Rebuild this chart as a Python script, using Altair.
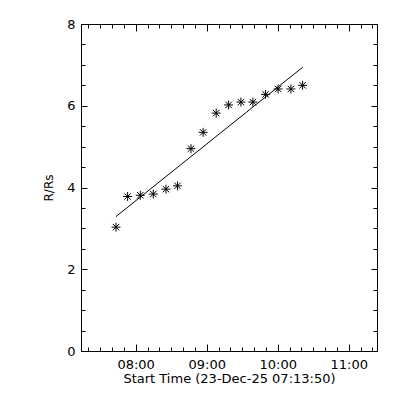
import altair as alt
import pandas as pd

# Observation times (UT, 23-Dec-25) and heights in solar radii
times = ["07:43:24", "07:53:12", "08:03:54", "08:14:54", "08:25:36", "08:35:18",
         "08:46:42", "08:57:00", "09:08:00", "09:18:30", "09:28:54", "09:39:00",
         "09:49:42", "10:00:18", "10:11:06", "10:21:00"]
heights = [3.03, 3.78, 3.81, 3.84, 3.96, 4.04, 4.95, 5.35, 5.82, 6.02, 6.09, 6.09,
           6.28, 6.41, 6.41, 6.50]

# Linear fit end points
fit_times = ["07:43:24", "10:21:00"]
fit_heights = [3.29, 6.94]

x_domain_times = ["07:13:50", "11:23:50"]
y_domain = [0, 8]
x_major = [8, 9, 10, 11]
y_major = [0, 2, 4, 6, 8]


def to_hours(s):
    h, m, sec = (int(v) for v in s.split(":"))
    return h + m / 60 + sec / 3600


pts = pd.DataFrame({"t": [to_hours(s) for s in times], "r": heights})
fit = pd.DataFrame({"t": [to_hours(s) for s in fit_times], "r": fit_heights})

x_minor = [7 + 20 / 60 + i / 6 for i in range(25)]
y_minor = [i * 0.5 for i in range(17)]

xscale = alt.Scale(domain=[to_hours(s) for s in x_domain_times], nice=False, zero=False)
yscale = alt.Scale(domain=y_domain, nice=False, zero=False)

FONT = "DejaVu Sans"
common = dict(grid=False, domain=False, tickColor="black", tickWidth=1,
              labelColor="black", titleColor="black", labelFont=FONT,
              titleFont=FONT, labelFontSize=13, titleFontSize=13,
              titleFontWeight="normal")

ax_bottom_major = alt.Axis(orient="bottom", values=x_major, tickSize=7, offset=-7,
                           labelExpr="(datum.value < 10 ? '0' : '') + datum.value + ':00'",
                           labelPadding=7, title="Start Time (23-Dec-25 07:13:50)",
                           titlePadding=1, **common)
ax_bottom_minor = alt.Axis(orient="bottom", values=x_minor, tickSize=4, offset=-4,
                           labels=False, title=None, **common)
ax_top_major = alt.Axis(orient="top", values=x_major, tickSize=7, offset=-7,
                        labels=False, title=None, **common)
ax_top_minor = alt.Axis(orient="top", values=x_minor, tickSize=4, offset=-4,
                        labels=False, title=None, **common)
left_common = dict(common, titleFontSize=12)
ax_left_major = alt.Axis(orient="left", values=y_major, tickSize=6, offset=-6,
                         labelPadding=6, title="R/Rs", titlePadding=11, **left_common)
ax_left_minor = alt.Axis(orient="left", values=y_minor, tickSize=4, offset=-4,
                         labels=False, title=None, **common)
ax_right_major = alt.Axis(orient="right", values=y_major, tickSize=6, offset=-6,
                          labels=False, title=None, **common)
ax_right_minor = alt.Axis(orient="right", values=y_minor, tickSize=4, offset=-4,
                          labels=False, title=None, **common)

asterisk = "M-1,0L1,0M0,-1L0,1M-0.72,-0.72L0.72,0.72M-0.72,0.72L0.72,-0.72"

points = alt.Chart(pts).mark_point(shape=asterisk, size=80, filled=False,
                                   color="black", strokeWidth=1, opacity=1).encode(
    x=alt.X("t:Q", scale=xscale, axis=ax_bottom_major),
    y=alt.Y("r:Q", scale=yscale, axis=ax_left_major),
)

line = alt.Chart(fit).mark_line(color="black", strokeWidth=1).encode(
    x=alt.X("t:Q", scale=xscale, axis=ax_bottom_minor),
    y=alt.Y("r:Q", scale=yscale, axis=ax_left_minor),
)

ghost1 = alt.Chart(fit).mark_line(strokeOpacity=0).encode(
    x=alt.X("t:Q", scale=xscale, axis=ax_top_major),
    y=alt.Y("r:Q", scale=yscale, axis=ax_right_major),
)
ghost2 = alt.Chart(fit).mark_line(strokeOpacity=0).encode(
    x=alt.X("t:Q", scale=xscale, axis=ax_top_minor),
    y=alt.Y("r:Q", scale=yscale, axis=ax_right_minor),
)

chart = alt.layer(line, points, ghost1, ghost2).resolve_axis(
    x="independent", y="independent"
).properties(
    width=296, height=327,
    autosize=alt.AutoSizeParams(type="none"),
    padding={"left": 73, "top": 16, "right": 15, "bottom": 41},
    background="white",
).configure_view(stroke="black", strokeWidth=1)

chart.save("out.html", embed_options={"renderer": "svg", "actions": False})
